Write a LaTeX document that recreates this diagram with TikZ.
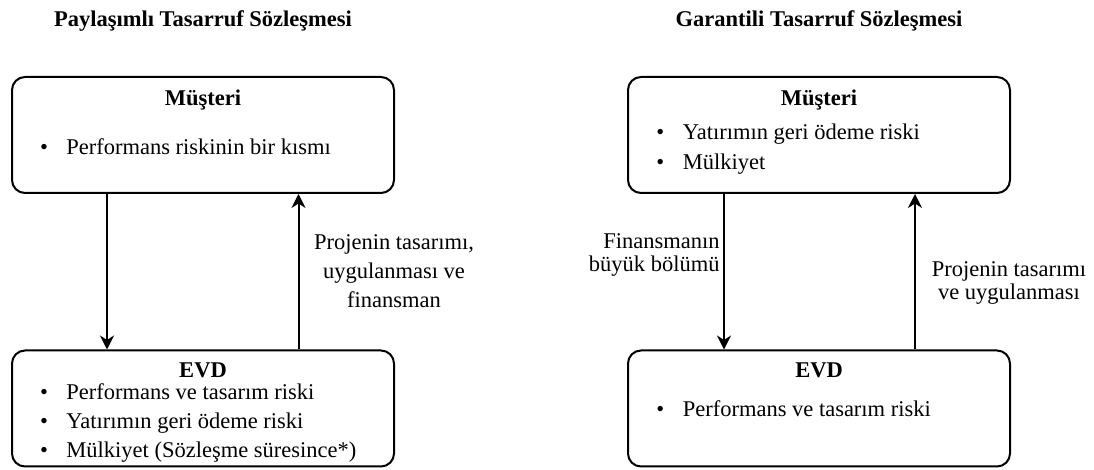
\documentclass[tikz,border=0pt]{standalone}
\usepackage{fontspec}
\setmainfont{Liberation Serif}
\usetikzlibrary{arrows.meta,positioning,calc}

\newcommand{\riskitem}[1]{\makebox[13.2pt][l]{\textbullet}#1}

\begin{document}
\begin{tikzpicture}[x=.5pt,y=-.5pt,
    font=\fontsize{11.25}{14.5}\selectfont,
    partybox/.style={draw,line width=1pt,rounded corners=6.5pt,minimum width=191pt,minimum height=58pt},
    headtext/.style={font=\fontsize{11.25}{14.5}\selectfont\bfseries,anchor=base,inner sep=0pt},
    riskline/.style={anchor=base west,inner sep=0pt},
    flowarrow/.style={line width=1pt,-{Stealth[length=7pt,width=7pt]}},
    flowlabel/.style={inner sep=0pt}]
    \useasboundingbox (0,0) rectangle (1094,470);

    \node[headtext] (titleL) at (203,27) {Paylaşımlı Tasarruf Sözleşmesi};
    \node[headtext] (titleR) at (819,27) {Garantili Tasarruf Sözleşmesi};

    \node[partybox] (clientL) at (203,135) {};
    \node[headtext] (clientLname) at (203,106) {Müşteri};
    \node[riskline] (clientL1) at (39.6,155) {\riskitem{Performans riskinin bir kısmı}};

    \node[partybox] (evdL) at (203,408.5) {};
    \node[headtext] (evdLname) at (203,378) {EVD};
    \node[riskline] (evdL1) at (39.6,400) {\riskitem{Performans ve tasarım riski}};
    \node[riskline] (evdL2) at (39.6,429) {\riskitem{Yatırımın geri ödeme riski}};
    \node[riskline] (evdL3) at (39.6,458) {\riskitem{Mülkiyet (Sözleşme süresince*)}};

    \draw[flowarrow] ([xshift=-48pt]clientL.south) -- ([xshift=-48pt]evdL.north);
    \draw[flowarrow] ([xshift=47.75pt]evdL.north) -- ([xshift=47.75pt]clientL.south);
    \node[flowlabel,align=center] (flowL) at (394,271.5) {Projenin tasarımı,\\uygulanması ve\\finansman};

    \node[partybox] (clientR) at (819,135) {};
    \node[headtext] (clientRname) at (819,106) {Müşteri};
    \node[riskline] (clientR1) at (656,140) {\riskitem{Yatırımın geri ödeme riski}};
    \node[riskline] (clientR2) at (656,170) {\riskitem{Mülkiyet}};

    \node[partybox] (evdR) at (819,408.5) {};
    \node[headtext] (evdRname) at (819,378) {EVD};
    \node[riskline] (evdR1) at (656,417) {\riskitem{Performans ve tasarım riski}};

    \draw[flowarrow] ([xshift=-47.5pt]clientR.south) -- ([xshift=-47.5pt]evdR.north);
    \draw[flowarrow] ([xshift=48pt]evdR.north) -- ([xshift=48pt]clientR.south);
    \node[flowlabel,align=right,anchor=east,font=\fontsize{11.25}{11.75}\selectfont] (flowR1) at (720,255) {Finansmanın\\büyük bölümü};
    \node[flowlabel,align=center,font=\fontsize{11.25}{11.25}\selectfont] (flowR2) at (1009,283) {Projenin tasarımı\\ve uygulanması};
\end{tikzpicture}
\end{document}
